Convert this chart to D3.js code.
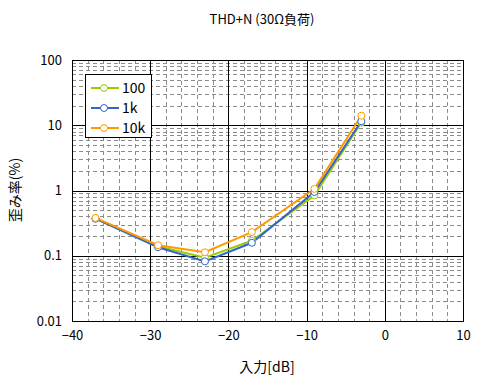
<!DOCTYPE html>
<html>
<head>
<meta charset="utf-8">
<script src="https://cdn.jsdelivr.net/npm/d3@7"></script>
<style>
  body { margin: 0; background: #fff; }
  text { font-family: "Noto Sans CJK JP", "DejaVu Sans", sans-serif; }
</style>
</head>
<body>
<div id="chart"></div>
<script>
// input level (dB)
var inputs = [-37, -29, -23, -17, -9, -3];
// THD+N (%) per frequency
var thd100 = [0.37, 0.14, 0.093, 0.17, 0.84, 11];
var thd1k = [0.37, 0.135, 0.082, 0.158, 0.95, 11.5];
var thd10k = [0.38, 0.145, 0.113, 0.23, 1.06, 14];
var seriesNames = ["100", "1k", "10k"];
var seriesColors = ["#99cc00", "#3366cc", "#ff9900"];
var xTicks = [-40, -30, -20, -10, 0, 10];
var yTicks = [0.01, 0.1, 1, 10, 100];

var svg = d3.select("#chart").append("svg")
    .attr("width", 482).attr("height", 386);

var margin = {top: 60, left: 72, right: 19, bottom: 65},
    width = 482 - margin.left - margin.right,
    height = 386 - margin.top - margin.bottom;

var g = svg.append("g").attr("transform", "translate(" + margin.left + "," + margin.top + ")");

var x = d3.scaleLinear().domain([-40, 10]).range([0, width]);
var y = d3.scaleLog().domain([0.01, 100]).range([height, 0]);

// minor grid
var xMinor = d3.range(-40, 10.1, 2).filter(function(d) { return d % 10 != 0; });
var yMinor = [];
[0.01, 0.1, 1, 10].forEach(function(b) { for (var k = 2; k <= 9; k++) yMinor.push(b * k); });

g.selectAll(".xminor").data(xMinor).enter().append("line")
    .attr("x1", function(d) { return Math.round(x(d)) + 0.5; })
    .attr("x2", function(d) { return Math.round(x(d)) + 0.5; })
    .attr("y1", 0).attr("y2", height)
    .attr("stroke", "#8c8c8c").attr("stroke-dasharray", "4,3");

g.selectAll(".yminor").data(yMinor).enter().append("line")
    .attr("y1", function(d) { return Math.round(y(d)) + 0.5; })
    .attr("y2", function(d) { return Math.round(y(d)) + 0.5; })
    .attr("x1", 0).attr("x2", width)
    .attr("stroke", "#8c8c8c").attr("stroke-dasharray", "4,3");

// major grid
g.selectAll(".xmajor").data(xTicks).enter().append("line")
    .attr("x1", function(d) { return Math.round(x(d)) + 0.5; })
    .attr("x2", function(d) { return Math.round(x(d)) + 0.5; })
    .attr("y1", 0).attr("y2", height)
    .attr("stroke", "#000");

g.selectAll(".ymajor").data(yTicks).enter().append("line")
    .attr("y1", function(d) { return Math.round(y(d)) + 0.5; })
    .attr("y2", function(d) { return Math.round(y(d)) + 0.5; })
    .attr("x1", 0).attr("x2", width)
    .attr("stroke", "#000");

g.append("rect").attr("x", 0.5).attr("y", 0.5)
    .attr("width", width).attr("height", height)
    .attr("fill", "none").attr("stroke", "#000");

// axes
var xAxis = g.append("g")
    .attr("transform", "translate(0," + height + ")")
    .call(d3.axisBottom(x).tickValues(xTicks).tickSize(0).tickPadding(10)
        .tickFormat(function(d) { return d < 0 ? "\u2212" + (-d) : d; }));
var yAxis = g.append("g")
    .call(d3.axisLeft(y).tickValues(yTicks).tickSize(0).tickPadding(10)
        .tickFormat(function(d) { return d; }));
[xAxis, yAxis].forEach(function(a) {
    a.select(".domain").remove();
    a.selectAll("text").attr("font-size", 13).attr("fill", "#000")
        .attr("font-family", "\"Noto Sans CJK JP\", sans-serif");
});

// series
var allSeries = [thd100, thd1k, thd10k];
var line = d3.line()
    .x(function(d, i) { return x(inputs[i]); })
    .y(function(d) { return y(d); });

allSeries.forEach(function(s, k) {
    g.append("path").datum(s)
        .attr("d", line)
        .attr("fill", "none")
        .attr("stroke", seriesColors[k])
        .attr("stroke-width", 2);
});
allSeries.forEach(function(s, k) {
    g.selectAll(".pt" + k).data(s).enter().append("circle")
        .attr("cx", function(d, i) { return x(inputs[i]); })
        .attr("cy", function(d) { return y(d); })
        .attr("r", 3.5)
        .attr("fill", "#fff")
        .attr("stroke", seriesColors[k])
        .attr("stroke-width", 1);
});

// legend
var legend = svg.append("g").attr("transform", "translate(85,74)");
legend.append("rect").attr("x", 0.5).attr("y", 0.5)
    .attr("width", 66).attr("height", 63)
    .attr("fill", "#fff").attr("stroke", "#000");
var items = legend.selectAll(".item").data(seriesNames).enter().append("g")
    .attr("transform", function(d, i) { return "translate(0," + (14 + i * 20) + ")"; });
items.append("line").attr("x1", 6).attr("x2", 34)
    .attr("stroke", function(d, i) { return seriesColors[i]; })
    .attr("stroke-width", 2);
items.append("circle").attr("cx", 19).attr("r", 3.5)
    .attr("fill", "#fff")
    .attr("stroke", function(d, i) { return seriesColors[i]; });
items.append("text").attr("x", 37).attr("dy", "0.35em")
    .attr("font-size", 14).text(function(d) { return d; });

// titles
svg.append("text").attr("x", 262).attr("y", 24)
    .attr("text-anchor", "middle").attr("font-size", 13)
    .text("THD+N (30Ω負荷)");
svg.append("text").attr("x", 267).attr("y", 372)
    .attr("text-anchor", "middle").attr("font-size", 14)
    .text("入力[dB]");
svg.append("text")
    .attr("transform", "translate(20,190) rotate(-90)")
    .attr("text-anchor", "middle").attr("font-size", 14)
    .text("歪み率(%)");
</script>
</body>
</html>
